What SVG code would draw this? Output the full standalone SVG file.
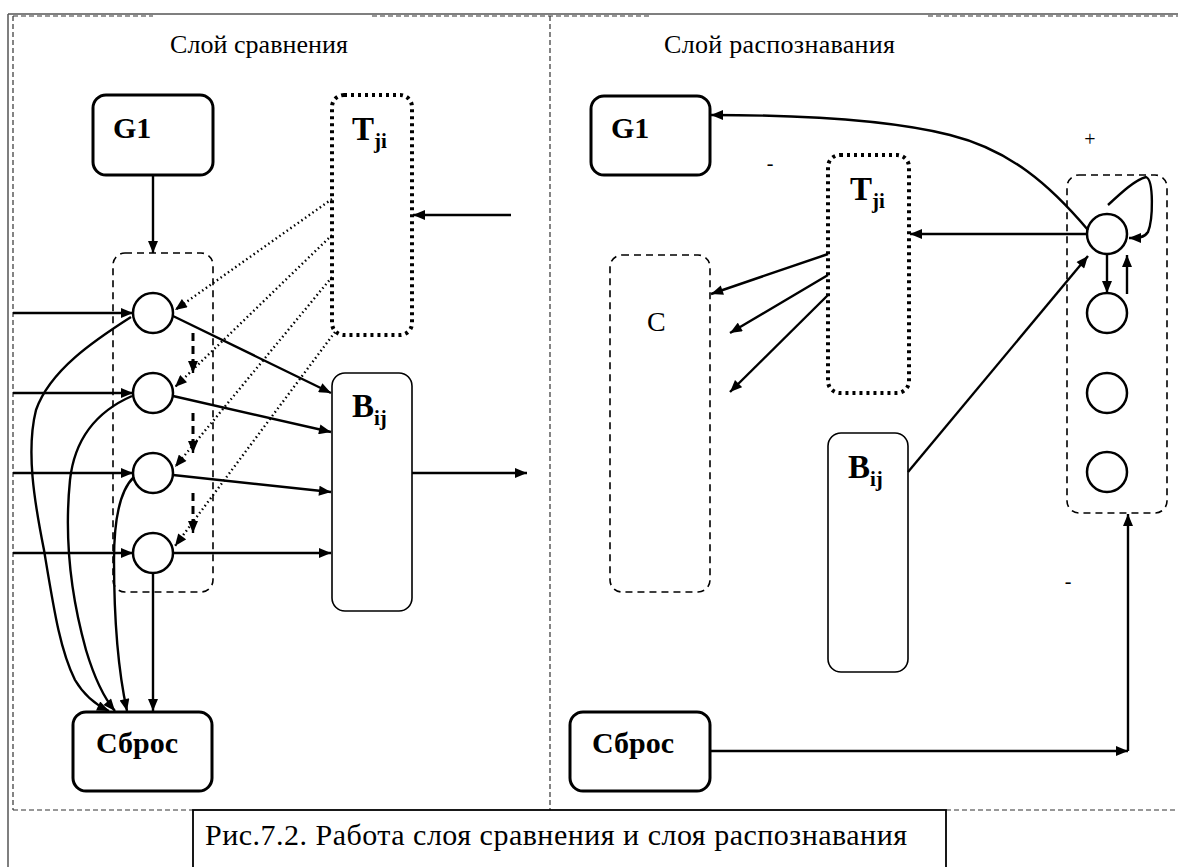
<svg xmlns="http://www.w3.org/2000/svg" width="1178" height="867" viewBox="0 0 1178 867">
<defs>
<marker id="ah" viewBox="0 0 12 10" refX="12" refY="5" markerWidth="13" markerHeight="10" markerUnits="userSpaceOnUse" orient="auto">
<path d="M0,0 L12,5 L0,10 z" fill="#000"/>
</marker>
</defs>
<style>
.frame{fill:none;stroke:#555;stroke-width:1.5}
.fdash{fill:none;stroke:#333;stroke-width:1.2;stroke-dasharray:5 3}
.box{fill:#fff;stroke:#000;stroke-width:3}
.thin{fill:#fff;stroke:#000;stroke-width:1.6}
.dot{fill:none;stroke:#000;stroke-width:4;stroke-dasharray:3 4}
.grp{fill:none;stroke:#000;stroke-width:1.6;stroke-dasharray:7 5}
.cir{fill:#fff;stroke:#000;stroke-width:2.5}
.c{fill:none;stroke:#000;stroke-width:2.4}
.cd{fill:none;stroke:#000;stroke-width:2.4;stroke-dasharray:1.5 3}
.cdash{fill:none;stroke:#000;stroke-width:3;stroke-dasharray:8 5}
.t{font-family:"Liberation Serif",serif;fill:#000}
.b{font-family:"Liberation Serif",serif;font-weight:bold;fill:#000}
</style>
<rect width="1178" height="867" fill="#fff"/>
<g id="frame">
<line class="frame" x1="8" y1="14" x2="1178" y2="14"/>
<line class="frame" x1="8" y1="14" x2="8" y2="867"/>
<line class="fdash" x1="13" y1="16" x2="153" y2="16"/>
<line class="fdash" x1="372" y1="16" x2="649" y2="16"/>
<line class="fdash" x1="928" y1="16" x2="1178" y2="16"/>
<line class="fdash" x1="13" y1="16" x2="13" y2="810"/>
<line class="fdash" x1="550" y1="16" x2="550" y2="810"/>
<line class="fdash" x1="13" y1="810" x2="193" y2="810"/>
<line class="fdash" x1="946" y1="810" x2="1178" y2="810"/>
<text class="t" x="170" y="53" font-size="26" textLength="178">Слой сравнения</text>
<text class="t" x="664" y="53" font-size="26" textLength="231">Слой распознавания</text>
</g>
<g id="caption">
<rect x="193" y="810" width="753" height="70" fill="#fff" stroke="#000" stroke-width="1.8"/>
<text class="t" x="205" y="845" font-size="30" textLength="702">Рис.7.2. Работа слоя сравнения и слоя распознавания</text>
</g>
<g id="g1-left">
<rect class="box" x="93" y="95" width="120" height="80" rx="13"/>
<text class="b" x="113" y="138" font-size="30">G1</text>
</g>
<g id="comp-group">
<rect class="grp" x="113" y="253" width="100" height="339" rx="12"/>
<circle class="cir" cx="153" cy="313" r="20"/>
<circle class="cir" cx="153" cy="393" r="20"/>
<circle class="cir" cx="153" cy="473" r="20"/>
<circle class="cir" cx="153" cy="553" r="20"/>
</g>
<g id="tji-left">
<rect class="dot" x="332" y="95" width="80" height="240" rx="12"/>
<text class="b" x="352" y="140" font-size="33">T<tspan font-size="21" dy="8">ji</tspan></text>
</g>
<g id="bij-left">
<rect class="thin" x="332" y="373" width="80" height="238" rx="13"/>
<text class="b" x="352" y="417" font-size="33">B<tspan font-size="21" dy="8">ij</tspan></text>
</g>
<g id="sbros-left">
<rect class="box" x="73" y="712" width="139" height="79" rx="13"/>
<text class="b" x="96" y="753" font-size="30">Сброс</text>
</g>
<g id="g1-right">
<rect class="box" x="591" y="96" width="119" height="79" rx="13"/>
<text class="b" x="611" y="138" font-size="30">G1</text>
</g>
<g id="c-right">
<rect class="grp" x="610" y="255" width="100" height="337" rx="12"/>
<text class="t" x="647" y="331" font-size="28">C</text>
</g>
<g id="tji-right">
<rect class="dot" x="828" y="155" width="81" height="238" rx="12"/>
<text class="b" x="850" y="200" font-size="33">T<tspan font-size="21" dy="8">ji</tspan></text>
</g>
<g id="bij-right">
<rect class="thin" x="828" y="433" width="80" height="239" rx="13"/>
<text class="b" x="848" y="478" font-size="33">B<tspan font-size="21" dy="8">ij</tspan></text>
</g>
<g id="rec-group">
<rect class="grp" x="1067" y="175" width="100" height="338" rx="12"/>
<circle class="cir" cx="1107" cy="234" r="20"/>
<circle class="cir" cx="1107" cy="313" r="20"/>
<circle class="cir" cx="1107" cy="393" r="20"/>
<circle class="cir" cx="1107" cy="472" r="20"/>
<text class="t" x="1090" y="146" font-size="20" text-anchor="middle">+</text>
<text class="t" x="770" y="170" font-size="20" text-anchor="middle">-</text>
<text class="t" x="1068" y="588" font-size="20" text-anchor="middle">-</text>
</g>
<g id="sbros-right">
<rect class="box" x="570" y="712" width="140" height="79" rx="13"/>
<text class="b" x="592" y="753" font-size="30">Сброс</text>
</g>
<g id="connectors">
<line class="c" x1="153" y1="175" x2="153" y2="253" marker-end="url(#ah)"/>
<line class="c" x1="13" y1="313" x2="133" y2="313" marker-end="url(#ah)"/>
<line class="c" x1="13" y1="393" x2="133" y2="393" marker-end="url(#ah)"/>
<line class="c" x1="13" y1="473" x2="133" y2="473" marker-end="url(#ah)"/>
<line class="c" x1="13" y1="553" x2="133" y2="553" marker-end="url(#ah)"/>
<line class="c" x1="173" y1="316" x2="331" y2="393" marker-end="url(#ah)"/>
<line class="c" x1="173" y1="396" x2="331" y2="432" marker-end="url(#ah)"/>
<line class="c" x1="173" y1="475" x2="331" y2="492" marker-end="url(#ah)"/>
<line class="c" x1="173" y1="553" x2="331" y2="553" marker-end="url(#ah)"/>
<line class="c" x1="412" y1="473" x2="527" y2="473" marker-end="url(#ah)"/>
<line class="c" x1="511" y1="215" x2="413" y2="215" marker-end="url(#ah)"/>
<line class="cd" x1="332" y1="199" x2="175" y2="310" marker-end="url(#ah)"/>
<line class="cd" x1="332" y1="235" x2="175" y2="387" marker-end="url(#ah)"/>
<line class="cd" x1="332" y1="277" x2="175" y2="467" marker-end="url(#ah)"/>
<line class="cd" x1="335" y1="332" x2="175" y2="546" marker-end="url(#ah)"/>
<line class="cdash" x1="193" y1="333" x2="193" y2="361"/>
<line class="c" x1="193" y1="360" x2="193" y2="373" marker-end="url(#ah)"/>
<line class="cdash" x1="193" y1="413" x2="193" y2="441"/>
<line class="c" x1="193" y1="440" x2="193" y2="453" marker-end="url(#ah)"/>
<line class="cdash" x1="193" y1="493" x2="193" y2="521"/>
<line class="c" x1="193" y1="520" x2="193" y2="533" marker-end="url(#ah)"/>
<path class="c" d="M131,317 C95,340 50,370 36,410 C26,450 34,500 44,550 C54,610 60,650 75,680 C85,697 96,705 109,711" marker-end="url(#ah)"/>
<path class="c" d="M132,396 C100,410 75,435 70,480 C64,540 72,600 86,650 C95,680 104,698 115,711" marker-end="url(#ah)"/>
<path class="c" d="M134,477 C120,490 114,520 114,560 C114,620 118,670 127,711" marker-end="url(#ah)"/>
<line class="c" x1="153" y1="573" x2="153" y2="711" marker-end="url(#ah)"/>
<line class="c" x1="1087" y1="234" x2="910" y2="234" marker-end="url(#ah)"/>
<line class="c" x1="828" y1="254" x2="711" y2="294" marker-end="url(#ah)"/>
<line class="c" x1="828" y1="275" x2="730" y2="333" marker-end="url(#ah)"/>
<line class="c" x1="828" y1="295" x2="730" y2="392" marker-end="url(#ah)"/>
<path class="c" d="M1088,230 C1050,185 1010,150 950,135 C890,120 800,115 711,115" marker-end="url(#ah)"/>
<line class="c" x1="908" y1="472" x2="1088" y2="256" marker-end="url(#ah)"/>
<path class="c" d="M1108,205 C1122,192 1135,180 1146,177 C1154,180 1153,220 1148,232 C1144,238 1138,238 1129,238" marker-end="url(#ah)"/>
<line class="c" x1="1107" y1="254" x2="1107" y2="293" marker-end="url(#ah)"/>
<line class="c" x1="1127" y1="294" x2="1127" y2="255" marker-end="url(#ah)"/>
<line class="c" x1="710" y1="751" x2="1128" y2="751" marker-end="url(#ah)"/>
<line class="c" x1="1128" y1="751" x2="1128" y2="514" marker-end="url(#ah)"/>
</g>
</svg>
